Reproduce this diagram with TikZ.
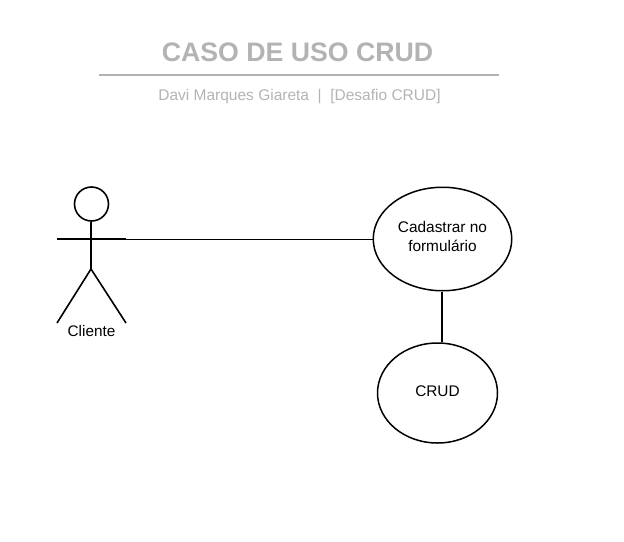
\documentclass[tikz,border=0pt]{standalone}
\usepackage{fontspec}
\setmainfont{Liberation Sans}
\definecolor{titlegray}{HTML}{B3B3B3}
\usetikzlibrary{shapes.geometric}
\tikzset{
    usecase/.style={draw,ellipse,line width=1.5pt,inner sep=0pt,align=center,font=\fontsize{15.4}{19}\selectfont},
    actorline/.style={draw,line width=1.6pt},
}

\begin{document}
\begin{tikzpicture}[x=1pt,y=-1pt]
        \useasboundingbox (0,0) rectangle (624,541);
        % header
        \node (title) at (297.5,52.5) [text=titlegray,font=\fontsize{26.7}{30}\selectfont\bfseries] {CASO DE USO CRUD};
        \coordinate (ruleleft) at (99,74.5);
        \coordinate (ruleright) at (499,74.5);
        \draw [line width=2pt,color=titlegray] (ruleleft) -- (ruleright);
        \node (author) at (299.5,97) [text=titlegray,font=\fontsize{15.5}{18}\selectfont] {Davi Marques Giareta\ \ |\ \ [Desafio CRUD]};
        % actor
        \node (head) at (91.5,204) [circle,actorline,minimum size=34pt,inner sep=0pt] {};
        \coordinate (hip) at (91,269);
        \coordinate (armleft) at (57,239);
        \coordinate (armright) at (126,239);
        \coordinate (footleft) at (57,323);
        \coordinate (footright) at (126,323);
        \draw [actorline] (head.south -| hip) -- (hip);
        \draw [actorline] (armleft) -- (armright);
        \draw [actorline] (footleft) -- (hip) -- (footright);
        \node (client) at (91.5,331) [font=\fontsize{15.3}{18}\selectfont] {Cliente};
        % use cases
        \node (form) at (442.5,239) [usecase,text depth=5pt,minimum width=138.5pt,minimum height=103.5pt] {Cadastrar no\\formulário};
        \node (crud) at (437.5,393) [usecase,text depth=4pt,minimum width=120pt,minimum height=100pt] {CRUD};
        \draw [line width=1pt] (armright) -- (form.west);
        \draw [line width=2pt] ([xshift=-0.5pt]form.south) -- ([xshift=-0.5pt]form.south |- crud.north);
\end{tikzpicture}
\end{document}
